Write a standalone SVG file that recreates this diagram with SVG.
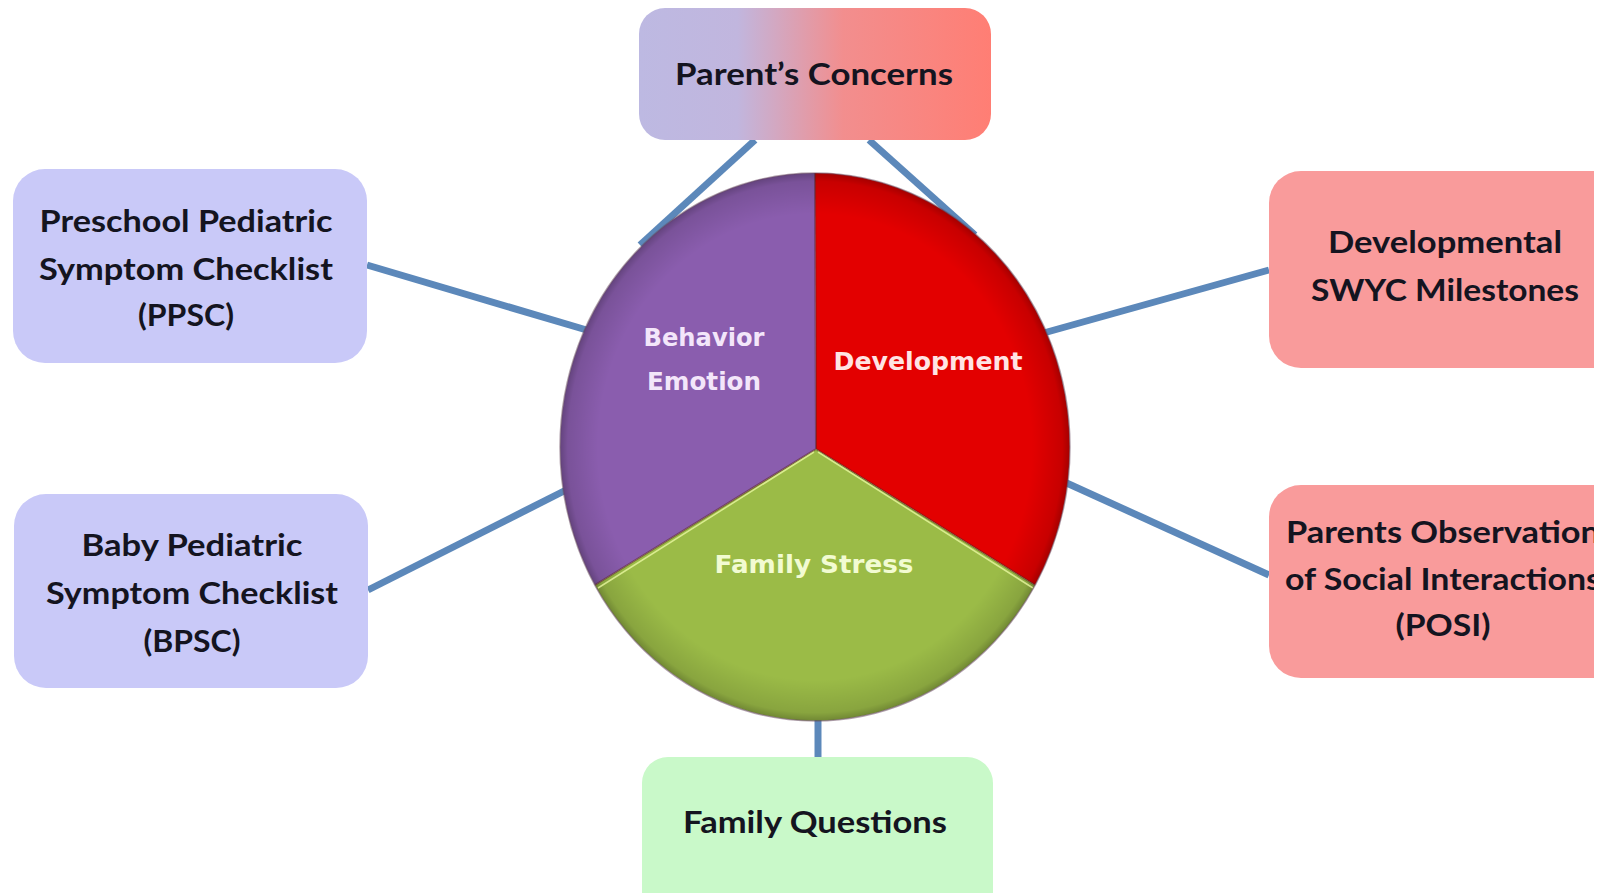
<svg xmlns="http://www.w3.org/2000/svg" width="1610" height="893" viewBox="0 0 1610 893">
<style>
.conn{stroke:#5C88BA;stroke-width:7;stroke-linecap:butt;fill:none}
.bt{font-family:Lato,"Open Sans","Liberation Sans",sans-serif;font-weight:bold;font-size:31px;fill:#141420;text-anchor:middle}
.pt{font-family:"DejaVu Sans","Liberation Sans",sans-serif;font-weight:bold;font-size:25px;text-anchor:middle}
</style>
<defs>
<linearGradient id="pcg" x1="0" y1="0" x2="1" y2="0">
<stop offset="0" stop-color="#BDB9E2"/>
<stop offset="0.28" stop-color="#C1B6DE"/>
<stop offset="0.58" stop-color="#F28E8E"/>
<stop offset="1" stop-color="#FF7E74"/>
</linearGradient>
<radialGradient id="rim" cx="0.5" cy="0.5" r="0.5">
<stop offset="0.85" stop-color="#000" stop-opacity="0"/>
<stop offset="0.97" stop-color="#000" stop-opacity="0.12"/>
<stop offset="1" stop-color="#000" stop-opacity="0.28"/>
</radialGradient>
<clipPath id="rc"><rect x="0" y="0" width="1594" height="893"/></clipPath>
</defs>
<rect width="1610" height="893" fill="#FFFFFF"/>
<g id="connectors">
<line class="conn" x1="755" y1="140" x2="640" y2="245"/>
<line class="conn" x1="869" y1="140" x2="975" y2="235"/>
<line class="conn" x1="367" y1="265" x2="590" y2="331"/>
<line class="conn" x1="368" y1="590" x2="570" y2="488"/>
<line class="conn" x1="1269" y1="270" x2="1040" y2="334"/>
<line class="conn" x1="1269" y1="575" x2="1060" y2="480"/>
<line class="conn" x1="818" y1="715" x2="818" y2="758"/>
</g>
<g id="pie">
<path d="M816,449 L815,173 A255,274 0 0 1 1035,585 Z" fill="#E30000"/>
<path d="M816,449 L1035,585 A255,274 0 0 1 595,585 Z" fill="#9BBB47"/>
<path d="M816,449 L595,585 A255,274 0 0 1 815,173 Z" fill="#8A5DAE"/>
<ellipse cx="815" cy="447" rx="255" ry="274" fill="url(#rim)"/>
<path d="M815,173 L816,449 M816,449 L1035,585 M816,449 L595,585" stroke="#5A2020" stroke-width="2" stroke-opacity="0.5" fill="none"/>
<path d="M818,452 L1033,588 M814,452 L598,588" stroke="#E8F8A0" stroke-width="1.5" stroke-opacity="0.8" fill="none"/>
<ellipse cx="815" cy="447" rx="255" ry="274" fill="none" stroke="#6A4A60" stroke-width="1.5" stroke-opacity="0.5"/>
<text class="pt" x="704" y="346" fill="#F3E6FA" textLength="121" lengthAdjust="spacingAndGlyphs">Behavior</text>
<text class="pt" x="704" y="390" fill="#F3E6FA" textLength="114" lengthAdjust="spacingAndGlyphs">Emotion</text>
<text class="pt" x="928" y="370" fill="#FFE4E4" textLength="189" lengthAdjust="spacingAndGlyphs">Development</text>
<text class="pt" x="814" y="573" fill="#F2FBD2" textLength="199" lengthAdjust="spacingAndGlyphs">Family Stress</text>
</g>
<g id="parents-concerns">
<rect x="639" y="8" width="352" height="132" rx="26" fill="url(#pcg)"/>
<text class="bt" x="814" y="85" textLength="278" lengthAdjust="spacingAndGlyphs">Parent’s Concerns</text>
</g>
<g id="ppsc">
<rect x="13" y="169" width="354" height="194" rx="32" fill="#C9C9F8"/>
<text class="bt" x="186" y="232" textLength="293" lengthAdjust="spacingAndGlyphs">Preschool Pediatric</text>
<text class="bt" x="186" y="280" textLength="294" lengthAdjust="spacingAndGlyphs">Symptom Checklist</text>
<text class="bt" x="186" y="326" textLength="96" lengthAdjust="spacingAndGlyphs">(PPSC)</text>
</g>
<g id="bpsc">
<rect x="14" y="494" width="354" height="194" rx="32" fill="#C9C9F8"/>
<text class="bt" x="192" y="556" textLength="221" lengthAdjust="spacingAndGlyphs">Baby Pediatric</text>
<text class="bt" x="192" y="604" textLength="292" lengthAdjust="spacingAndGlyphs">Symptom Checklist</text>
<text class="bt" x="192" y="652" textLength="97" lengthAdjust="spacingAndGlyphs">(BPSC)</text>
</g>
<g id="swyc" clip-path="url(#rc)">
<rect x="1269" y="171" width="380" height="197" rx="32" fill="#F99B9B"/>
<text class="bt" x="1445" y="253" textLength="234" lengthAdjust="spacingAndGlyphs">Developmental</text>
<text class="bt" x="1445" y="301" textLength="268" lengthAdjust="spacingAndGlyphs">SWYC Milestones</text>
</g>
<g id="posi" clip-path="url(#rc)">
<rect x="1269" y="485" width="380" height="193" rx="32" fill="#F99B9B"/>
<text class="bt" x="1443" y="543" textLength="314" lengthAdjust="spacingAndGlyphs">Parents Observation</text>
<text class="bt" x="1443" y="590" textLength="316" lengthAdjust="spacingAndGlyphs">of Social Interactions</text>
<text class="bt" x="1443" y="636" textLength="95" lengthAdjust="spacingAndGlyphs">(POSI)</text>
</g>
<g id="family-questions">
<rect x="642" y="757" width="351" height="180" rx="26" fill="#C9F9C9"/>
<text class="bt" x="815" y="833" textLength="264" lengthAdjust="spacingAndGlyphs">Family Questions</text>
</g>
</svg>
